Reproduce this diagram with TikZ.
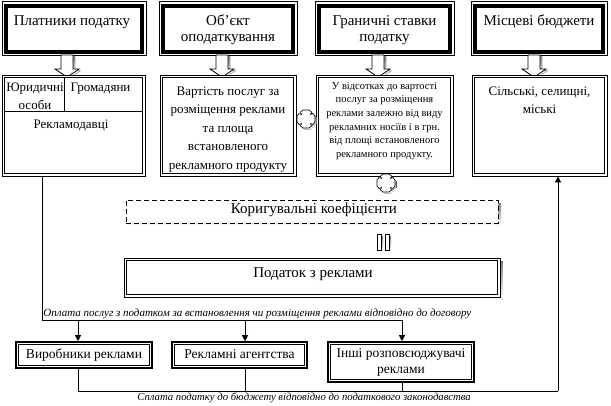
\documentclass[tikz,border=0pt]{standalone}
\usepackage{fontspec}
\setmainfont{Liberation Serif}
\usetikzlibrary{arrows.meta,calc}
\newcommand{\mylines}[1]{\begin{tabular}[t]{@{}c@{}}#1\end{tabular}}
\colorlet{shade}{black!50}
\begin{document}
\begin{tikzpicture}[x=1pt,y=-1pt,line width=0.8pt,
  frame/.style={draw,inner sep=0pt,fill=white},
  txt/.style={inner sep=0pt,anchor=base},
  bigfont/.style={font=\fontsize{15}{16}\selectfont},
  midfont/.style={font=\fontsize{13}{18.5}\selectfont},
  smallfont/.style={font=\fontsize{10.5}{13.7}\selectfont},
  notefont/.style={font=\fontsize{11}{12}\itshape},
  arr/.style={-{Triangle[width=6pt,length=6pt]}},
  pics/downarrow/.style={code={
    \fill[shade] (-4,1.5) -- (-4,15.5) -- (-10,15.5) -- (2,23.5) -- (14,15.5) -- (8,15.5) -- (8,1.5) -- cycle;
    \filldraw[fill=white,line width=0.7pt] (-6,0) -- (-6,14) -- (-12,14) -- (0,22) -- (12,14) -- (6,14) -- (6,0) -- cycle;
  }},
  pics/quad/.style={code={
    \fill[shade,shift={(1.5,1.5)}] (-3,-9) -- (3,-9) -- (5.5,-7) -- (4.5,-4.5) -- (7,-5.5) -- (9,-3) -- (9,3) -- (7,5.5) -- (4.5,4.5) -- (5.5,7) -- (3,9) -- (-3,9) -- (-5.5,7) -- (-4.5,4.5) -- (-7,5.5) -- (-9,3) -- (-9,-3) -- (-7,-5.5) -- (-4.5,-4.5) -- (-5.5,-7) -- cycle;
    \filldraw[fill=white,line width=0.6pt] (-3,-9) -- (3,-9) -- (5.5,-7) -- (4.5,-4.5) -- (7,-5.5) -- (9,-3) -- (9,3) -- (7,5.5) -- (4.5,4.5) -- (5.5,7) -- (3,9) -- (-3,9) -- (-5.5,7) -- (-4.5,4.5) -- (-7,5.5) -- (-9,3) -- (-9,-3) -- (-7,-5.5) -- (-4.5,-4.5) -- (-5.5,-7) -- cycle;
  }}
]
\useasboundingbox[fill=white] (0,0) rectangle (611,405);

% ---------- top boxes ----------
\foreach \n/\cx/\w in {t1/74/144, t2/228/138, t3/384.5/139, t4/539/136}{
  \node[frame,minimum width=\w pt,minimum height=53.5pt] (\n) at (\cx,28.25) {};
  \draw[line width=4pt] ([shift={(4,4.5)}]\n.north west) rectangle ([shift={(-4.5,-3.7)}]\n.south east);
}
\node[txt,bigfont] (t1l) at (72,25) {Платники податку};
\node[txt,bigfont] (t2l) at (228,25) {\mylines{Об’єкт\\оподаткування}};
\node[txt,bigfont] (t3l) at (384.5,25) {\mylines{Граничні ставки\\податку}};
\node[txt,bigfont] (t4l) at (539,25) {Місцеві бюджети};

% ---------- block arrows ----------
\foreach \cx in {67,222,378,534}{
  \pic at (\cx,55) {downarrow};
}

% ---------- second row ----------
\foreach \n/\cx/\w in {s1/73.5/143, s2/228/136, s3/384.5/137, s4/539.5/135}{
  \node[frame,minimum width=\w pt,minimum height=101pt] (\n) at (\cx,125.5) {};
  \draw ([shift={(3,3)}]\n.north west) rectangle ([shift={(-3,-3)}]\n.south east);
}
\draw ($(s1.north west)+(3,37)$) -- ($(s1.north east)+(-3,37)$);
\draw ($(s1.north west)+(63,3)$) -- ($(s1.north west)+(63,37)$);
\node[txt,midfont] (s1a) at (35,91) {\mylines{Юридичні\\особи}};
\node[txt,midfont] (s1b) at (100.5,91) {Громадяни};
\node[txt,midfont] (s1c) at (71,128) {Рекламодавці};
\node[txt,midfont] (s2l) at (228,95) {\mylines{Вартість послуг за\\розміщення реклами\\та площа\\встановленого\\рекламного продукту}};
\node[txt,smallfont] (s3l) at (384.5,89) {\mylines{У відсотках до вартості\\послуг за розміщення\\реклами залежно від виду\\рекламних носіїв і в грн.\\від площі встановленого\\рекламного продукту.}};
\node[txt,font=\fontsize{13}{18}\selectfont] (s4l) at (539.5,95) {\mylines{Сільські, селищні,\\міські}};

% ---------- quad symbols ----------
\pic at (306,119) {quad};
\pic at (386,183) {quad};

% ---------- correction coefficients ----------
\fill[shade] (129,203) rectangle (501,226);
\node[frame,dashed,dash pattern=on 5pt off 3pt,minimum width=372pt,minimum height=23pt] (d) at (312,211.5) {};
\node[txt,bigfont] (dl) at (314,213.5) {Коригувальні коефіцієнти};

% ---------- double bar ----------
\fill[shade] (379,236) rectangle (383,252);
\fill[shade] (387,236) rectangle (391,252);
\filldraw[fill=white,line width=0.6pt] (377,234) rectangle (381,250);
\filldraw[fill=white,line width=0.6pt] (385,234) rectangle (389,250);

% ---------- tax ----------
\fill[shade] (127,261) rectangle (502.5,299.5);
\node[frame,minimum width=376pt,minimum height=39pt] (p) at (312,277.5) {};
\draw[line width=1.6pt] ([shift={(3,3)}]p.north west) rectangle ([shift={(-3,-3)}]p.south east);
\node[txt,bigfont] (pl) at (313,277) {Податок з реклами};

% ---------- bottom boxes ----------
\node[frame,line width=1.6pt,minimum width=136pt,minimum height=26pt] (b1) at (84,355) {};
\node[frame,line width=1.6pt,minimum width=135pt,minimum height=26pt] (b2) at (239.5,355) {};
\node[frame,line width=1.6pt,minimum width=146pt,minimum height=40pt] (b3) at (401,362) {};
\foreach \n in {b1,b2,b3}{
  \draw ([shift={(3.5,3.5)}]\n.north west) rectangle ([shift={(-3.5,-3.5)}]\n.south east);
}
\node[txt,font=\fontsize{13.5}{18.5}\selectfont] (b1l) at (84,358.5) {Виробники реклами};
\node[txt,font=\fontsize{13.5}{18.5}\selectfont] (b2l) at (239.5,358.5) {Рекламні агентства};
\node[txt,font=\fontsize{13.5}{16}\selectfont] (b3l) at (401,357) {\mylines{Інші розповсюджувачі\\реклами}};

% ---------- payment to distributors ----------
\coordinate (j1) at (42,320);
\coordinate (d1) at (78,320);
\coordinate (d2) at (245,320);
\coordinate (d3) at (402,320);
\draw (j1 |- s1.south) -- (j1) -- (d3);
\draw[arr] (d1) -- (d1 |- b1.north);
\draw[arr] (d2) -- (d2 |- b2.north);
\draw[arr] (d3) -- (d3 |- b3.north);
\node[txt,notefont,anchor=base west] (n1) at (43,316.5) {Оплата послуг з податком за встановлення чи розміщення реклами відповідно до договору};

% ---------- payment to budget ----------
\coordinate (e1) at (78,391);
\coordinate (e2) at (245,391);
\coordinate (e3) at (402,391);
\coordinate (e4) at (558,391);
\draw (e1 |- b1.south) -- (e1) -- (e4);
\draw (e2 |- b2.south) -- (e2);
\draw (e3 |- b3.south) -- (e3);
\draw[arr] (e4) -- (e4 |- s4.south);
\node[txt,font=\fontsize{10.7}{12}\itshape,anchor=base west] (n2) at (137,400) {Сплата податку до бюджету відповідно до податкового законодавства};
\end{tikzpicture}
\end{document}
